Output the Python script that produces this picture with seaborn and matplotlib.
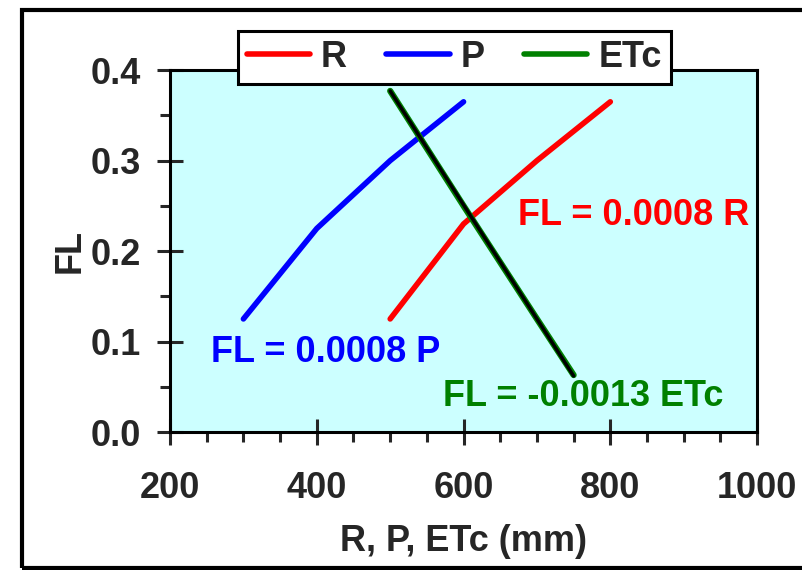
import pandas as pd
import matplotlib
matplotlib.use("Agg")
import matplotlib.pyplot as plt
import seaborn as sns
from matplotlib.patches import Rectangle
from matplotlib.ticker import MultipleLocator

# data
r_mm = [500, 600, 700, 800]
r_fl = [0.125, 0.23, 0.30, 0.365]
p_mm = [300, 400, 500, 600]
p_fl = [0.125, 0.225, 0.30, 0.365]
etc_mm = [500, 600, 700, 750]
etc_fl = [0.377, 0.250, 0.125, 0.063]
etc_fit_mm = [500, 750]
etc_fit_fl = [0.377, 0.062]

sns.set_style("ticks")
plt.rcParams["font.family"] = ["Liberation Sans", "DejaVu Sans"]
plt.rcParams["font.weight"] = "bold"
FS = 26

fig = plt.figure(figsize=(8.02, 5.70), dpi=100)
ax = fig.add_axes([0.212, 0.242, 0.732, 0.635])
ax.set_facecolor("#CCFFFF")

r = pd.DataFrame({"x": r_mm, "y": r_fl})
p = pd.DataFrame({"x": p_mm, "y": p_fl})
e = pd.DataFrame({"x": etc_mm, "y": etc_fl})
ef = pd.DataFrame({"x": etc_fit_mm, "y": etc_fit_fl})

sns.lineplot(data=r, x="x", y="y", ax=ax, color="#FF0000", lw=4, label="R",
             sort=False, solid_capstyle="round")
sns.lineplot(data=p, x="x", y="y", ax=ax, color="#0000FF", lw=4, label="P",
             sort=False, solid_capstyle="round")
sns.lineplot(data=e, x="x", y="y", ax=ax, color="#008000", lw=4.5, label="ETc",
             sort=False, solid_capstyle="round")
sns.lineplot(data=ef, x="x", y="y", ax=ax, color="black", lw=2.5,
             sort=False, solid_capstyle="round", legend=False)

ax.set_xlim(200, 1000)
ax.set_ylim(0, 0.4)
ax.xaxis.set_major_locator(MultipleLocator(200))
ax.xaxis.set_minor_locator(MultipleLocator(50))
ax.yaxis.set_major_locator(MultipleLocator(0.1))
ax.yaxis.set_minor_locator(MultipleLocator(0.05))
ax.set_yticklabels([f"{v:.1f}" for v in ax.get_yticks()])

for s in ax.spines.values():
    s.set_linewidth(2.2)
    s.set_color("black")
ax.tick_params(which="major", direction="inout", length=18.5, width=2.2,
               labelsize=FS)
ax.tick_params(axis="x", which="major", pad=19)
ax.tick_params(axis="y", which="major", pad=12)
ax.tick_params(which="minor", direction="out", length=7.2, width=2.2)
for lab in ax.get_xticklabels() + ax.get_yticklabels():
    lab.set_fontweight("bold")

ax.set_xlabel("R, P, ETc (mm)", fontsize=FS, fontweight="bold", labelpad=13)
ax.set_ylabel("FL", fontsize=FS, fontweight="bold", labelpad=2)

ax.text(832, 0.239, "FL = 0.0008 R", color="#FF0000", fontsize=FS,
        fontweight="bold", ha="center", va="center", clip_on=False)
ax.text(412, 0.088, "FL = 0.0008 P", color="#0000FF", fontsize=FS,
        fontweight="bold", ha="center", va="center")
ax.text(763, 0.039, "FL = -0.0013 ETc", color="#008000", fontsize=FS,
        fontweight="bold", ha="center", va="center")

leg = ax.legend(loc="center", bbox_to_anchor=(0.484, 1.036), ncol=3,
                frameon=True, fancybox=False, framealpha=1, edgecolor="black",
                fontsize=FS, handlelength=1.75, columnspacing=1.1,
                borderpad=0.25, handletextpad=0.3)
leg.get_frame().set_linewidth(2.2)
for t in leg.get_texts():
    t.set_fontweight("bold")
for h in leg.get_lines():
    h.set_linewidth(4)
leg.set_zorder(10)

fig.add_artist(Rectangle((22 / 802, 2 / 570), 1.2, 1 - 12 / 570,
                         transform=fig.transFigure, fill=False,
                         edgecolor="black", lw=3, clip_on=False))

fig.savefig("out.png", dpi=100)
